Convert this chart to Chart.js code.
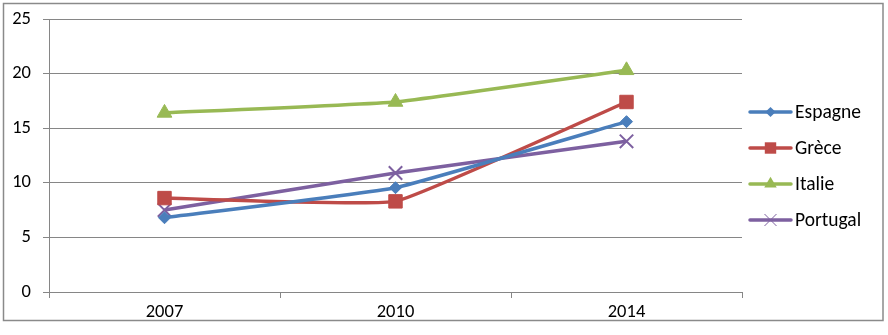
<!DOCTYPE html>
<html>
<head>
<meta charset="utf-8">
<script src="https://cdn.jsdelivr.net/npm/chart.js@4/dist/chart.umd.min.js"></script>
<style>
  html, body { margin: 0; padding: 0; background: #fff; }
  canvas { display: block; }
</style>
</head>
<body>
<canvas id="c" width="888" height="335"></canvas>
<script>
// Categories and series
const years = ['2007', '2010', '2014'];
const espagne = [6.8, 9.55, 15.6];
const grece = [8.6, 8.3, 17.4];
const italie = [16.4, 17.4, 20.3];
const portugal = [7.5, 10.9, 13.8];
const yTicks = [0, 5, 10, 15, 20, 25];

const FONT = '"Carlito", "Lato", "Liberation Sans", sans-serif';
const GRID = '#868686';

const series = [
  { label: 'Espagne', data: espagne, color: '#4a7ebb', style: 'rectRot', r: 6 },
  { label: 'Grèce', data: grece, color: '#be4b48', style: 'rect', r: 9.5 },
  { label: 'Italie', data: italie, color: '#98b954', style: 'triangle', r: 8.5 },
  { label: 'Portugal', data: portugal, color: '#7d60a0', style: 'crossRot', r: 9.5 }
];

// Draws one marker shape centred at (x, y)
function marker(ctx, style, x, y, r, color, thin) {
  ctx.save();
  ctx.fillStyle = color;
  ctx.strokeStyle = color;
  ctx.beginPath();
  if (style === 'rectRot') {
    ctx.moveTo(x, y - r); ctx.lineTo(x + r, y); ctx.lineTo(x, y + r); ctx.lineTo(x - r, y);
    ctx.closePath(); ctx.fill();
  } else if (style === 'rect') {
    const s = r * Math.SQRT1_2;
    ctx.rect(x - s, y - s, 2 * s, 2 * s); ctx.fill();
  } else if (style === 'triangle') {
    for (let i = 0; i < 3; i++) {
      const a = i * 2 * Math.PI / 3;
      const px = x + Math.sin(a) * r, py = y - Math.cos(a) * r;
      i ? ctx.lineTo(px, py) : ctx.moveTo(px, py);
    }
    ctx.closePath(); ctx.fill();
  } else if (style === 'crossRot') {
    const s = r * Math.SQRT1_2;
    ctx.lineWidth = thin ? 1 : 2;
    ctx.moveTo(x - s, y - s); ctx.lineTo(x + s, y + s);
    ctx.moveTo(x + s, y - s); ctx.lineTo(x - s, y + s);
    ctx.stroke();
  }
  ctx.restore();
}

// Outer frame and line-with-marker legend on the right
const framePlugin = {
  id: 'frame',
  afterDraw(chart) {
    const ctx = chart.ctx;
    ctx.save();
    ctx.strokeStyle = '#8a8a8a';
    ctx.lineWidth = 1.5;
    ctx.strokeRect(3.5, 3.5, 879.5, 317);
    ctx.restore();

    const x0 = 750, x1 = 791, top = 112, step = 36;
    ctx.save();
    ctx.font = '19.5px ' + FONT;
    ctx.textBaseline = 'middle';
    ctx.textAlign = 'left';
    series.forEach((s, i) => {
      const y = top + i * step;
      ctx.strokeStyle = s.color;
      ctx.lineWidth = 3.5;
      ctx.lineCap = 'round';
      ctx.beginPath(); ctx.moveTo(x0, y); ctx.lineTo(x1, y); ctx.stroke();
      marker(ctx, s.style, (x0 + x1) / 2, y, s.r * 0.85, s.color, true);
      ctx.fillStyle = '#000';
      ctx.fillText(s.label, 795, y + 1);
    });
    ctx.restore();
  }
};

new Chart(document.getElementById('c'), {
  type: 'line',
  data: {
    labels: years,
    datasets: series.map(s => ({
      label: s.label,
      data: s.data,
      borderColor: s.color,
      backgroundColor: s.color,
      borderWidth: 3.5,
      tension: 0.1,
      pointStyle: s.style,
      pointRadius: s.r,
      pointBorderWidth: s.style === 'crossRot' ? 2 : 1,
      pointBorderColor: s.color,
      pointBackgroundColor: s.color
    }))
  },
  options: {
    responsive: false,
    animation: false,
    devicePixelRatio: 1,
    layout: { padding: { left: 0, right: 146, top: 19, bottom: 0 } },
    plugins: { legend: { display: false }, tooltip: { enabled: false } },
    scales: {
      x: {
        offset: true,
        grid: { offset: true, drawOnChartArea: false, drawTicks: true, tickLength: 6, color: GRID },
        border: { display: true, color: GRID, width: 1 },
        ticks: { color: '#000', font: { family: FONT, size: 18.5 }, padding: 3 },
        afterFit(scale) { scale.height = 43; scale.paddingLeft = 0; scale.paddingRight = 0; }
      },
      y: {
        min: 0,
        max: 25,
        afterBuildTicks(scale) { scale.ticks = yTicks.map(v => ({ value: v })); },
        grid: { color: GRID, tickLength: 6, drawTicks: true },
        border: { display: true, color: GRID, width: 1 },
        ticks: { color: '#000', font: { family: FONT, size: 18.5 }, padding: 12 },
        afterFit(scale) { scale.width = 49; scale.paddingTop = 0; scale.paddingBottom = 0; }
      }
    }
  },
  plugins: [framePlugin]
});
</script>
</body>
</html>
